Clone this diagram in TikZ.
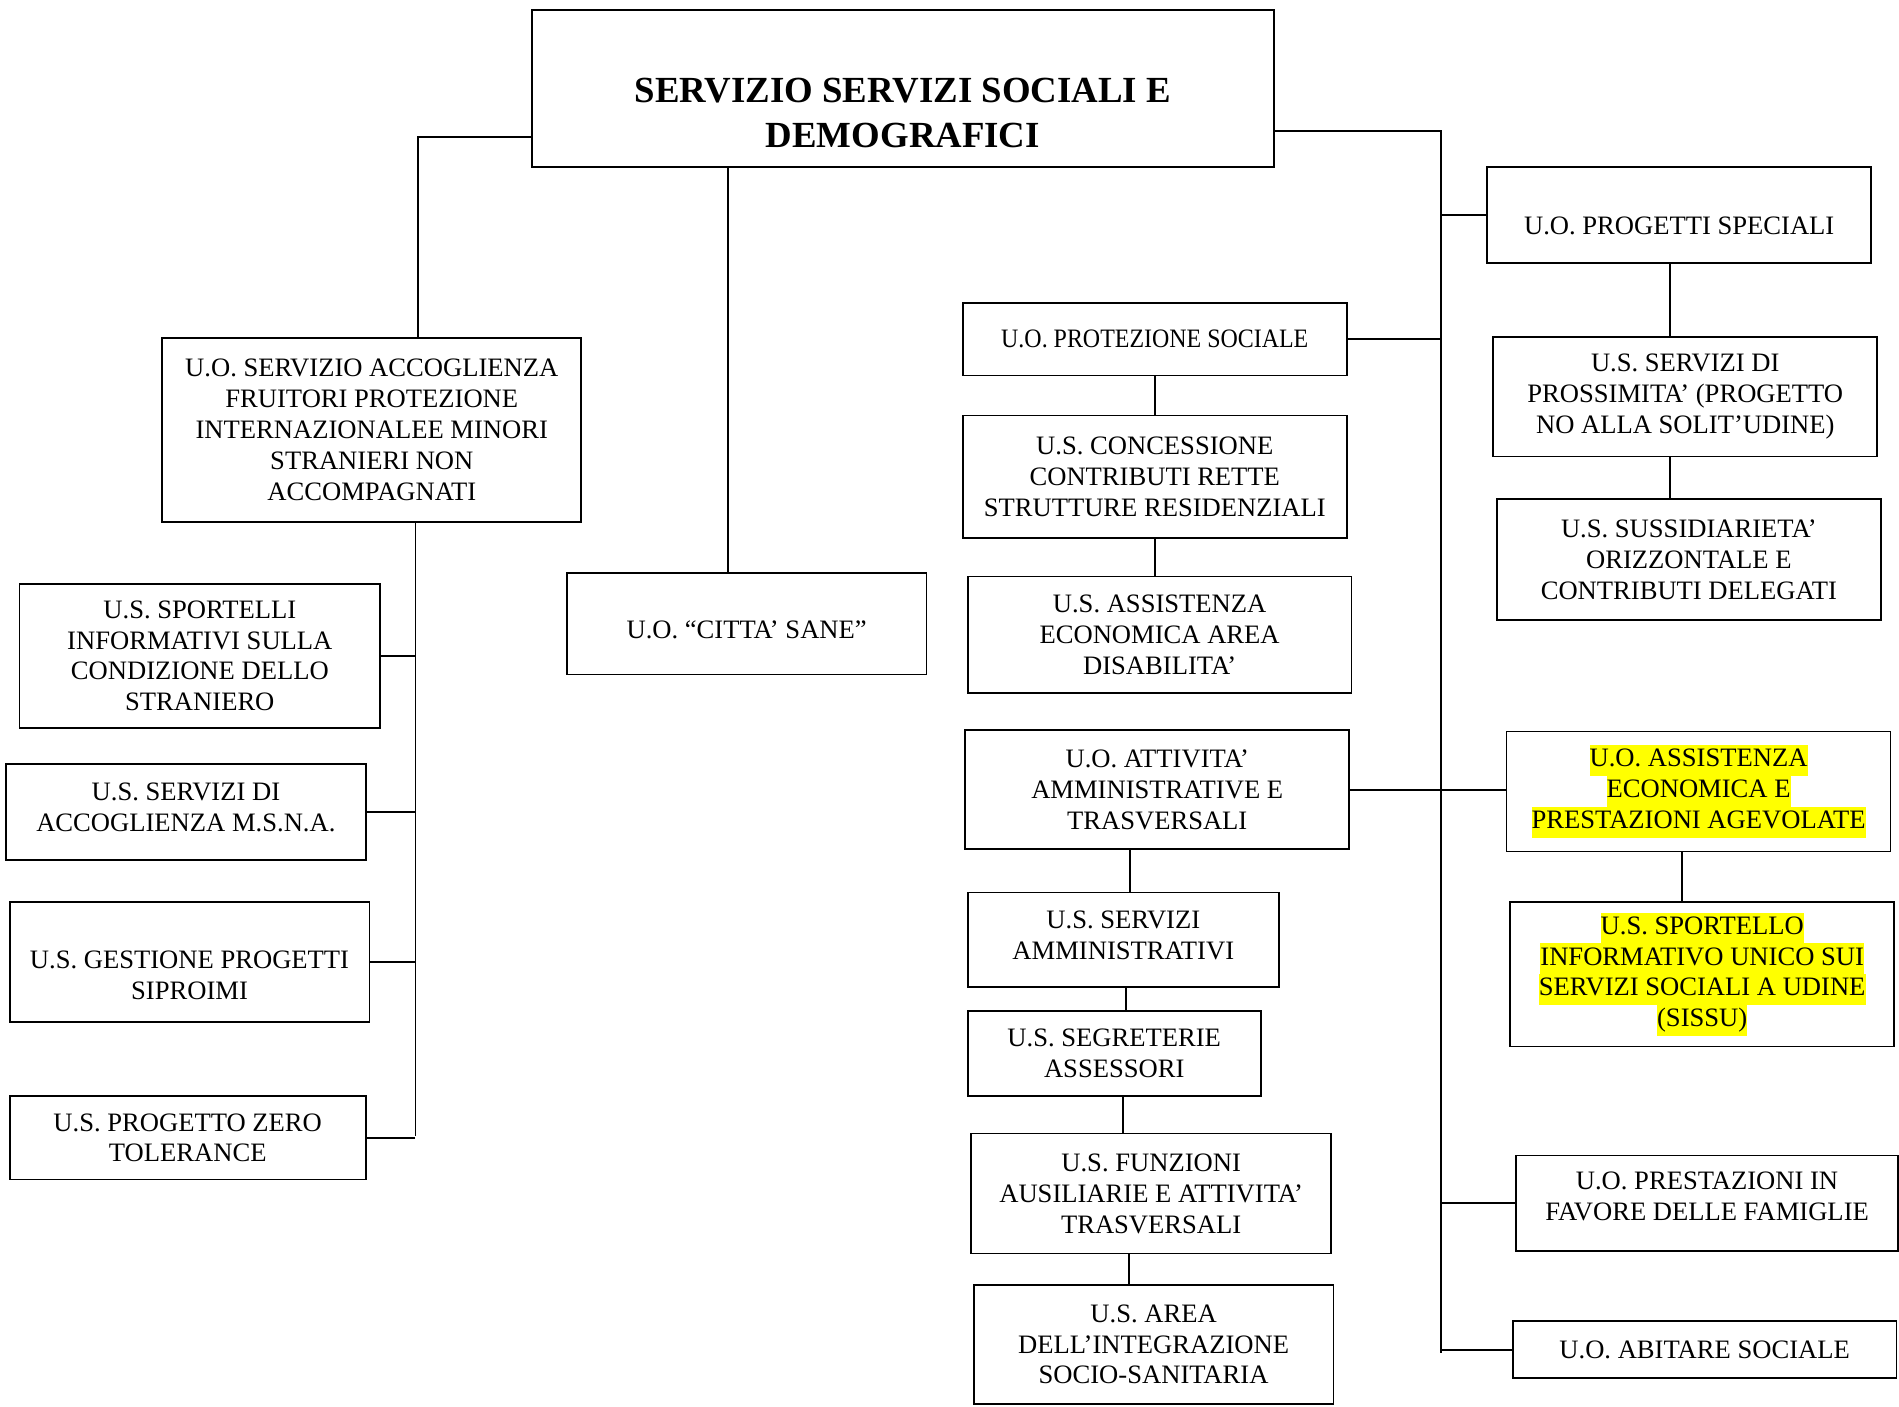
\documentclass[tikz,border=0pt]{standalone}
\usepackage{fontspec}
\setmainfont{Liberation Serif}
\newfontfamily\stretto[FakeStretch=0.9]{Liberation Serif}
\usepackage{xcolor}
\definecolor{evidenza}{HTML}{FFFF00}
\setlength{\fboxsep}{0pt}
\newcommand{\evid}[1]{\colorbox{evidenza}{\strut #1}}
% spostano il testo dentro il riquadro
\newcommand{\giu}[1]{\rule{0pt}{#1}}
\newcommand{\su}[1]{\rule[-#1]{0pt}{#1}}

\tikzset{
  unita/.style 2 args={draw, line width=0.8pt, inner sep=0pt, align=center,
    font=\fontsize{12.5pt}{14.5pt}\selectfont,
    minimum width=#1*0.02cm, minimum height=#2*0.02cm},
  linea/.style={line width=0.8pt},
}

\begin{document}
\begin{tikzpicture}[x=0.02cm, y=-0.02cm]
  \useasboundingbox (0,0) rectangle (1568,1161);

  % servizio
  \node[unita={613}{130}, line width=1pt] (titolo) at (745.5,73) {};
  \node[font=\fontsize{17.3pt}{21pt}\selectfont\bfseries, align=center] (titolotxt)
    at (745.5,93.5) {SERVIZIO SERVIZI SOCIALI E\\DEMOGRAFICI};

  % ramo sinistro
  \node[unita={346}{152}] (acc) at (307,355)
    {U.O. SERVIZIO ACCOGLIENZA\\FRUITORI PROTEZIONE\\INTERNAZIONALEE MINORI\\STRANIERI NON\\ACCOMPAGNATI};
  \node[unita={298}{119}] (s1) at (165,541.5)
    {U.S. SPORTELLI\\INFORMATIVI SULLA\\CONDIZIONE DELLO\\STRANIERO};
  \node[unita={297}{79}] (s2) at (153.5,670.5)
    {U.S. SERVIZI DI\\ACCOGLIENZA M.S.N.A.\su{4.5pt}};
  \node[unita={297}{99}] (s3) at (156.5,794.5)
    {\giu{20.8pt}U.S. GESTIONE PROGETTI\\SIPROIMI};
  \node[unita={294}{69}] (s4) at (155,939.5)
    {U.S. PROGETTO ZERO\\TOLERANCE};

  \node[unita={297}{84}] (cs) at (616.5,515) {\giu{14pt}U.O. “CITTA’ SANE”};

  % colonna centrale
  \node[unita={317}{60}, font=\fontsize{12.5pt}{14.5pt}\stretto] (prot) at (953.5,280)
    {U.O. PROTEZIONE SOCIALE};
  \node[unita={317}{101}] (p1) at (953.5,393.5)
    {U.S. CONCESSIONE\\CONTRIBUTI RETTE\\STRUTTURE RESIDENZIALI};
  \node[unita={317}{96}] (p2) at (957.5,524)
    {U.S. ASSISTENZA\\ECONOMICA AREA\\DISABILITA’};
  \node[unita={317}{98}] (att) at (955.5,652)
    {U.O. ATTIVITA’\\AMMINISTRATIVE E\\TRASVERSALI};
  \node[unita={257}{78}] (q1) at (927.5,776)
    {U.S. SERVIZI\\AMMINISTRATIVI\su{4.5pt}};
  \node[unita={242}{70}] (q2) at (920,870)
    {U.S. SEGRETERIE\\ASSESSORI};
  \node[unita={297}{99}] (q3) at (950.5,985.5)
    {U.S. FUNZIONI\\AUSILIARIE E ATTIVITA’\\TRASVERSALI};
  \node[unita={297}{98}] (q4) at (952.5,1110)
    {U.S. AREA\\DELL’INTEGRAZIONE\\SOCIO-SANITARIA};

  % ramo destro
  \node[unita={317}{79}] (r1) at (1386.5,177.5) {\giu{18.5pt}U.O. PROGETTI SPECIALI};
  \node[unita={317}{99}] (r2) at (1391.5,327.5)
    {U.S. SERVIZI DI\\PROSSIMITA’ (PROGETTO\\NO ALLA SOLIT’UDINE)};
  \node[unita={317}{100}] (r3) at (1394.5,462)
    {U.S. SUSSIDIARIETA’\\ORIZZONTALE E\\CONTRIBUTI DELEGATI};
  \node[unita={317}{99}] (r4) at (1402.5,653.5)
    {\evid{U.O. ASSISTENZA}\\\evid{ECONOMICA E}\\\evid{PRESTAZIONI AGEVOLATE}};
  \node[unita={317}{119}] (r5) at (1405.5,804.5)
    {\evid{U.S. SPORTELLO}\\\evid{INFORMATIVO UNICO SUI}\\\evid{SERVIZI SOCIALI A UDINE}\\\evid{(SISSU)}};
  \node[unita={315}{79}] (r6) at (1409.5,993.5)
    {U.O. PRESTAZIONI IN\\FAVORE DELLE FAMIGLIE\su{6.8pt}};
  \node[unita={317}{47}] (r7) at (1407.5,1114.5) {U.O. ABITARE SOCIALE};

  % collegamenti a sinistra
  \coordinate (sx) at (345,113);
  \coordinate (sxb) at (343,938);
  \draw[linea] (titolo.west |- sx) -- (sx) -- (sx |- acc.north);
  \draw[linea] (acc.south -| sxb) -- (sxb);
  \foreach \s in {s1,s2,s3,s4}
    \draw[linea] (\s.east) -- (\s.east -| sxb);

  \coordinate (csx) at (601,0);
  \draw[linea] (csx |- titolo.south) -- (csx |- cs.north);

  % collegamenti a destra
  \coordinate (dx) at (1190,108);
  \coordinate (dxb) at (1190,1117);
  \draw[linea] (titolo.east |- dx) -- (dx) -- (dxb);
  \foreach \n in {r1,r6,r7}
    \draw[linea] (\n.west) -- (\n.west -| dx);
  \draw[linea] (prot.east) -- (prot.east -| dx);
  \draw[linea] (att.east) -- (att.east -| r4.west);

  % verticali
  \draw[linea] (prot.south) -- (prot.south |- p1.north);
  \draw[linea] (p1.south) -- (p1.south |- p2.north);
  \coordinate (qx) at (933,0);
  \draw[linea] (qx |- att.south) -- (qx |- q1.north);
  \coordinate (q1x) at (930,0);
  \draw[linea] (q1x |- q1.south) -- (q1x |- q2.north);
  \coordinate (q2x) at (927,0);
  \draw[linea] (q2x |- q2.south) -- (q2x |- q3.north);
  \coordinate (q3x) at (932,0);
  \draw[linea] (q3x |- q3.south) -- (q3x |- q4.north);
  \coordinate (rx) at (1379,0);
  \draw[linea] (rx |- r1.south) -- (rx |- r2.north);
  \draw[linea] (rx |- r2.south) -- (rx |- r3.north);
  \coordinate (r4x) at (1389,0);
  \draw[linea] (r4x |- r4.south) -- (r4x |- r5.north);
\end{tikzpicture}
\end{document}
